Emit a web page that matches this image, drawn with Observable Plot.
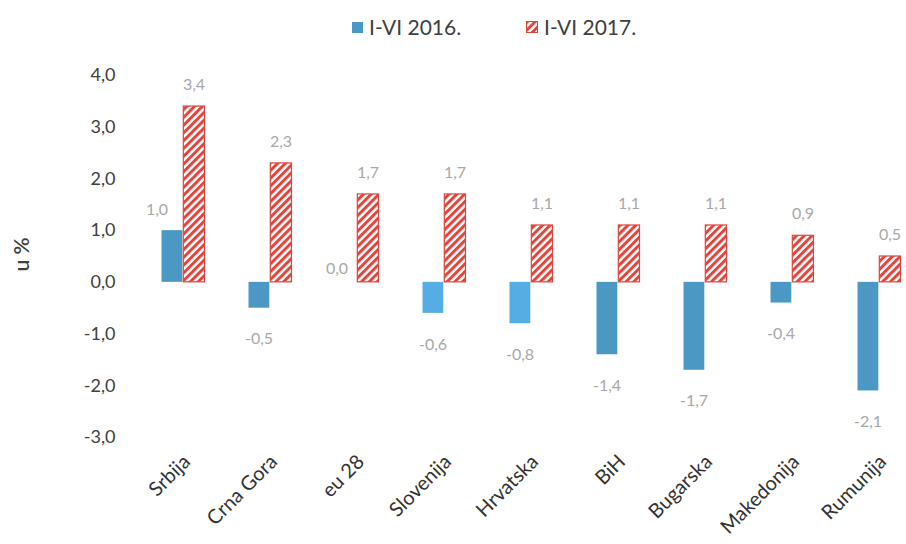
<!DOCTYPE html>
<html><head><meta charset="utf-8">
<script src="https://cdn.jsdelivr.net/npm/d3@7"></script>
<script src="https://cdn.jsdelivr.net/npm/@observablehq/plot@0.6"></script>
<style>
body{margin:0;background:#fff;font-family:Lato, sans-serif;}
#legend{position:relative;height:50px;width:906px;}
.item{position:absolute;top:12px;display:flex;align-items:center;font-size:21px;color:#404040;line-height:30px;white-space:nowrap;}
.item svg{margin-right:6px;display:block}
#chart svg{display:block}
</style></head><body>
<div id="legend"></div>
<div id="chart"></div>
<script>
const countries = ["Srbija", "Crna Gora", "eu 28", "Slovenija", "Hrvatska", "BiH", "Bugarska", "Makedonija", "Rumunija"];
const values2016 = [1.0, -0.5, 0.0, -0.6, -0.8, -1.4, -1.7, -0.4, -2.1];
const values2017 = [3.4, 2.3, 1.7, 1.7, 1.1, 1.1, 1.1, 0.9, 0.5];
const seriesNames = ["I-VI 2016.", "I-VI 2017."];
const yTicks = [-3, -2, -1, 0, 1, 2, 3, 4];
const lighter2016 = ["Slovenija", "Hrvatska"];

const BLUE = "#4b98c5", LIGHTBLUE = "#56ade4", RED = "#e0453d";
const fmt = v => v.toFixed(1).replace(".", ",");

const d2016 = countries.map((c, i) => ({country: c, v: values2016[i]}));
const d2017 = countries.map((c, i) => ({country: c, v: values2017[i]}));

const hatchDef = id => `<pattern id="${id}" patternUnits="userSpaceOnUse" width="5.5" height="5.5" patternTransform="rotate(45)"><rect width="5.5" height="5.5" fill="#fff"/><rect width="3" height="5.5" fill="${RED}"/></pattern>`;

// legend
const legend = document.getElementById("legend");
const lefts = [352, 526];
seriesNames.forEach((name, i) => {
  const item = document.createElement("div");
  item.className = "item";
  item.style.left = lefts[i] + "px";
  const sw = i === 0
    ? `<svg width="11" height="11"><rect width="11" height="11" fill="${BLUE}"/></svg>`
    : `<svg width="12" height="12"><defs>${hatchDef("hatchL")}</defs><rect x="0.5" y="0.5" width="11" height="11" fill="url(#hatchL)" stroke="${RED}"/></svg>`;
  item.innerHTML = sw + `<span>${name}</span>`;
  legend.appendChild(item);
});

const step = 87.4;
const x0 = 137.3;
const half = step / 2;

const plot = Plot.plot({
  width: 906,
  height: 494,
  marginTop: 25,
  marginBottom: 107,
  marginLeft: 137,
  marginRight: 0,
  style: {fontFamily: "Lato, sans-serif", background: "transparent", overflow: "hidden"},
  x: {domain: countries, range: [x0, x0 + step * countries.length], padding: 0, axis: null},
  y: {domain: [-3, 4], axis: null},
  marks: [
    Plot.axisY({ticks: yTicks, tickFormat: fmt, tickSize: 0, tickPadding: 22, fontSize: 18, fill: "#404040", label: null}),
    Plot.axisX({tickRotate: -45, tickSize: 0, tickPadding: 21, dx: 4, fontSize: 20, fill: "#333", label: null}),
    Plot.text(["u %"], {frameAnchor: "left", dx: -115, dy: 15, rotate: -90, fontSize: 21, fontWeight: 600, fill: "#404040"}),
    Plot.barY(d2016, {x: "country", y: "v", fill: d => lighter2016.includes(d.country) ? LIGHTBLUE : BLUE, insetLeft: 22.5, insetRight: half}),
    Plot.barY(d2017, {x: "country", y: "v", fill: "url(#hatch)", stroke: RED, strokeWidth: 1.2, insetLeft: half + 0.6, insetRight: 21.5}),
    Plot.text(d2016.filter(d => d.v > 0), {x: "country", y: "v", text: d => fmt(d.v), dx: -26, dy: -21, fontSize: 16, fill: "#a8a8a8"}),
    Plot.text(d2016.filter(d => d.v === 0), {x: "country", y: "v", text: d => fmt(d.v), dx: -20, dy: -13, fontSize: 16, fill: "#a8a8a8"}),
    Plot.text(d2016.filter(d => d.v < 0), {x: "country", y: "v", text: d => fmt(d.v), dx: -11, dy: 31, fontSize: 16, fill: "#a8a8a8"}),
    Plot.text(d2017, {x: "country", y: "v", text: d => fmt(d.v), dx: 11, dy: -22, fontSize: 16, fill: "#a8a8a8"})
  ]
});
d3.select(plot).insert("defs", ":first-child").html(hatchDef("hatch"));
document.getElementById("chart").appendChild(plot);
</script>
</body></html>
